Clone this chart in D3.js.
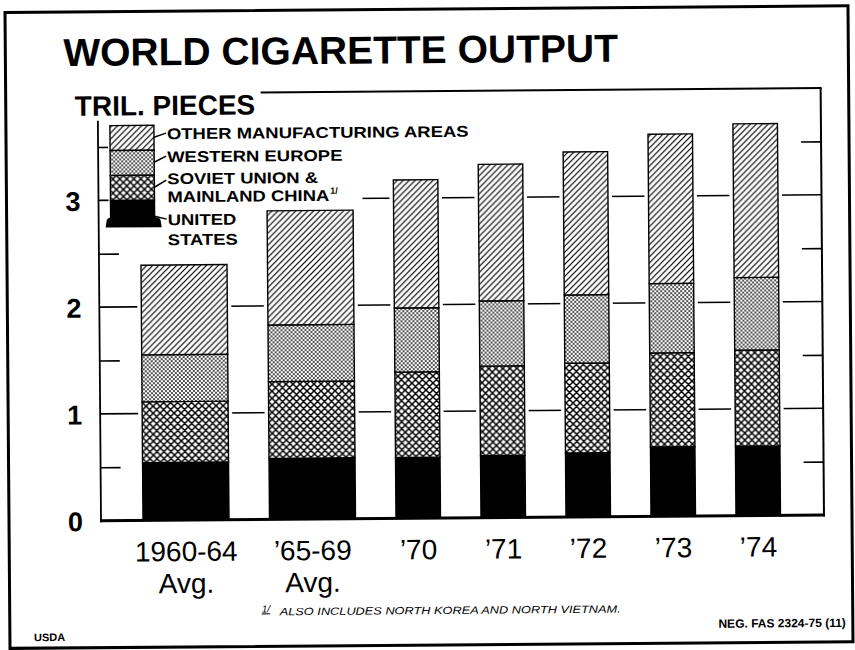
<!DOCTYPE html>
<html>
<head>
<meta charset="utf-8">
<script src="https://cdn.jsdelivr.net/npm/d3@7"></script>
<style>
  body { margin: 0; background: #fff; }
  svg { display: block; }
  text { font-family: "Liberation Sans", Arial, Helvetica, sans-serif; fill: #000; }
</style>
</head>
<body>
<div id="chart"></div>
<script>
// values in trillion pieces
const categories = ["1960-64 Avg.", "\u201965-69 Avg.", "\u201970", "\u201971", "\u201972", "\u201973", "\u201974"];
const unitedStates  = [0.54, 0.57, 0.57, 0.58, 0.60, 0.65, 0.65];
const sovietChina   = [0.57, 0.72, 0.80, 0.84, 0.84, 0.88, 0.90];
const westernEurope = [0.44, 0.53, 0.60, 0.61, 0.64, 0.65, 0.68];
const otherAreas    = [0.84, 1.07, 1.20, 1.28, 1.34, 1.40, 1.44];
const yLabels = [0, 1, 2, 3];
const halfTicks = [0.5, 1.5, 2.5, 3.5];

const W = 855, H = 650;
const svg = d3.select("#chart").append("svg").attr("width", W).attr("height", H);

// fill patterns
const defs = svg.append("defs");
const hatch = defs.append("pattern").attr("id", "hatch")
  .attr("patternUnits", "userSpaceOnUse").attr("width", 6).attr("height", 6);
hatch.append("rect").attr("width", 6).attr("height", 6).attr("fill", "#fff");
hatch.append("path").attr("d", "M-1,1 l2,-2 M0,6 l6,-6 M5,7 l2,-2")
  .attr("stroke", "#000").attr("stroke-width", 1.2);

const dots = defs.append("pattern").attr("id", "dots")
  .attr("patternUnits", "userSpaceOnUse").attr("width", 4).attr("height", 4);
dots.append("rect").attr("width", 4).attr("height", 4).attr("fill", "#fff");
dots.append("circle").attr("cx", 1).attr("cy", 1).attr("r", 0.9).attr("fill", "#000");
dots.append("circle").attr("cx", 3).attr("cy", 3).attr("r", 0.9).attr("fill", "#000");

const cross = defs.append("pattern").attr("id", "cross")
  .attr("patternUnits", "userSpaceOnUse").attr("width", 7).attr("height", 7);
cross.append("rect").attr("width", 7).attr("height", 7).attr("fill", "#fff");
cross.append("path").attr("d", "M0,0 L7,7 M7,0 L0,7 M-1,6 l2,2 M6,-1 l2,2 M-1,1 l2,-2 M6,8 l2,-2")
  .attr("stroke", "#000").attr("stroke-width", 1.5);

const fills = { us: "#000", sov: "url(#cross)", we: "url(#dots)", other: "url(#hatch)" };

// the original photo is tilted a little
const g = svg.append("g").attr("transform", "rotate(-0.45,185,520)");

g.append("rect").attr("x", 9).attr("y", 11).attr("width", 843).attr("height", 636)
  .attr("fill", "none").attr("stroke", "#000").attr("stroke-width", 3);

// scales
const y = d3.scaleLinear().domain([0, 4]).range([520, 93]);
const left = 101, right = 824;

const barW = categories.map(c => c.includes("Avg.") ? 86 : 44.5);
const gap = 40.5;
const starts = barW.map((w, i) => 143 + d3.sum(barW.slice(0, i)) + gap * i);
const x = d3.scaleOrdinal().domain(categories).range(starts);
const bw = d3.scaleOrdinal().domain(categories).range(barW);

const rows = categories.map((c, i) => ({
  cat: c, us: unitedStates[i], sov: sovietChina[i], we: westernEurope[i], other: otherAreas[i]
}));
const stacked = d3.stack().keys(["us", "sov", "we", "other"])(rows);

// gridlines at whole units
g.append("g").selectAll("line").data(yLabels.filter(d => d > 0)).join("line")
  .attr("x1", left).attr("x2", right)
  .attr("y1", d => y(d)).attr("y2", d => y(d))
  .attr("stroke", "#000").attr("stroke-width", 1.6);

// half ticks on both sides
g.append("g").attr("transform", `translate(${left},0)`)
  .call(d3.axisRight(y).tickValues(halfTicks).tickSize(20).tickFormat(""))
  .call(a => a.select(".domain").remove())
  .selectAll("line").attr("stroke-width", 1.6);
g.append("g").attr("transform", `translate(${right},0)`)
  .call(d3.axisLeft(y).tickValues(halfTicks).tickSize(20).tickFormat(""))
  .call(a => a.select(".domain").remove())
  .selectAll("line").attr("stroke-width", 1.6);

// white gaps around the bars
g.append("g").selectAll("rect").data(rows).join("rect")
  .attr("x", d => x(d.cat) - 4).attr("width", d => bw(d.cat) + 8)
  .attr("y", d => y(d.us + d.sov + d.we + d.other) - 4)
  .attr("height", d => y(0) - y(d.us + d.sov + d.we + d.other) + 4)
  .attr("fill", "#fff");

// stacked bars
g.append("g").selectAll("g").data(stacked).join("g")
  .attr("fill", s => fills[s.key])
  .selectAll("rect").data(s => s).join("rect")
  .attr("x", d => x(d.data.cat)).attr("width", d => bw(d.data.cat))
  .attr("y", d => y(d[1])).attr("height", d => y(d[0]) - y(d[1]))
  .attr("stroke", "#000").attr("stroke-width", 1.4);

// frame: left axis, bottom, right, top
g.append("line").attr("x1", left).attr("x2", left).attr("y1", 120).attr("y2", y(0) + 1.5)
  .attr("stroke", "#000").attr("stroke-width", 1.8);
g.append("line").attr("x1", right).attr("x2", right).attr("y1", y(4)).attr("y2", y(0) + 1.5)
  .attr("stroke", "#000").attr("stroke-width", 2);
g.append("line").attr("x1", 264).attr("x2", right + 1).attr("y1", y(4)).attr("y2", y(4))
  .attr("stroke", "#000").attr("stroke-width", 2);
g.append("line").attr("x1", left - 1).attr("x2", right + 1).attr("y1", y(0)).attr("y2", y(0))
  .attr("stroke", "#000").attr("stroke-width", 3);

// y labels
g.append("g").attr("transform", `translate(${left},0)`)
  .call(d3.axisLeft(y).tickValues(yLabels).tickSize(0).tickPadding(18).tickFormat(d3.format("d")))
  .call(a => a.select(".domain").remove())
  .selectAll("text")
  .attr("font-family", "Liberation Sans, Arial, sans-serif")
  .attr("font-size", 27).attr("font-weight", "bold").attr("dy", "0.36em");

// category labels
const cl = g.append("g").selectAll("text").data(categories).join("text")
  .attr("x", d => x(d) + bw(d) / 2).attr("text-anchor", "middle")
  .attr("font-size", 28);
cl.selectAll("tspan").data(d => d.split(" ")).join("tspan")
  .attr("x", function () { return d3.select(this.parentNode).attr("x"); })
  .attr("y", (d, i) => 561 + i * 32)
  .text(d => d);

// titles
g.append("text").attr("x", 67).attr("y", 65).attr("font-size", 39).attr("font-weight", "bold")
  .text("WORLD CIGARETTE OUTPUT");
g.append("text").attr("x", 78).attr("y", 115).attr("font-size", 28).attr("font-weight", "bold")
  .text("TRIL. PIECES");

// legend
const lg = g.append("g");
lg.append("rect").attr("x", 111).attr("y", 118).attr("width", 254).attr("height", 89).attr("fill", "#fff");
lg.append("rect").attr("x", 106).attr("y", 206).attr("width", 160).attr("height", 46).attr("fill", "#fff");
const sw = [
  { key: "other", y0: 125, y1: 150 },
  { key: "we", y0: 150, y1: 175 },
  { key: "sov", y0: 175, y1: 200 },
  { key: "us", y0: 200, y1: 218 }
];
lg.selectAll("rect.sw").data(sw).join("rect").attr("class", "sw")
  .attr("x", 113).attr("width", 44).attr("y", d => d.y0).attr("height", d => d.y1 - d.y0)
  .attr("fill", d => fills[d.key]).attr("stroke", "#000").attr("stroke-width", 1.4);
lg.append("path").attr("d", "M108,227 L109,220 Q110,217 114,217 L158,217 Q162,217 163,220 L164,227 Z")
  .attr("fill", "#000");

const legendText = [
  { t: "OTHER MANUFACTURING AREAS", y: 139 },
  { t: "WESTERN EUROPE", y: 162 },
  { t: "SOVIET UNION &", y: 184 },
  { t: "MAINLAND CHINA", y: 202, note: true },
  { t: "UNITED", y: 225 },
  { t: "STATES", y: 245 }
];
// small font, widened to the printed letter widths
const lt = lg.selectAll("text.lt").data(legendText).join("text").attr("class", "lt")
  .attr("x", 170).attr("y", d => d.y).attr("font-size", 15.5).attr("font-weight", "bold")
  .text(d => d.t)
  .attr("textLength", function () { return this.getComputedTextLength() * 1.19; })
  .attr("lengthAdjust", "spacingAndGlyphs");
lg.append("text").attr("x", 170 + lt.filter(d => d.note).node().getComputedTextLength() + 1)
  .attr("y", 195).attr("font-size", 9).attr("font-weight", "bold").text("1/");

const leaders = [[137, 133], [162, 156], [187, 180], [216, 219]];
lg.selectAll("line.ld").data(leaders).join("line").attr("class", "ld")
  .attr("x1", 157).attr("y1", d => d[0]).attr("x2", 169).attr("y2", d => d[1])
  .attr("stroke", "#000").attr("stroke-width", 1.5);

// footnote and credits
g.append("text").attr("x", 261).attr("y", 613).attr("font-size", 10).attr("font-style", "italic")
  .attr("text-decoration", "underline").text("1/");
g.append("text").attr("x", 279).attr("y", 616).attr("font-size", 10.5).attr("font-style", "italic")
  .attr("textLength", 341).attr("lengthAdjust", "spacingAndGlyphs")
  .text("ALSO INCLUDES NORTH KOREA AND NORTH VIETNAM.");
g.append("text").attr("x", 33).attr("y", 640).attr("font-size", 11).attr("font-weight", "bold")
  .text("USDA");
g.append("text").attr("x", 845).attr("y", 632).attr("font-size", 12).attr("font-weight", "bold")
  .attr("text-anchor", "end").text("NEG. FAS 2324-75 (11)");
</script>
</body>
</html>
